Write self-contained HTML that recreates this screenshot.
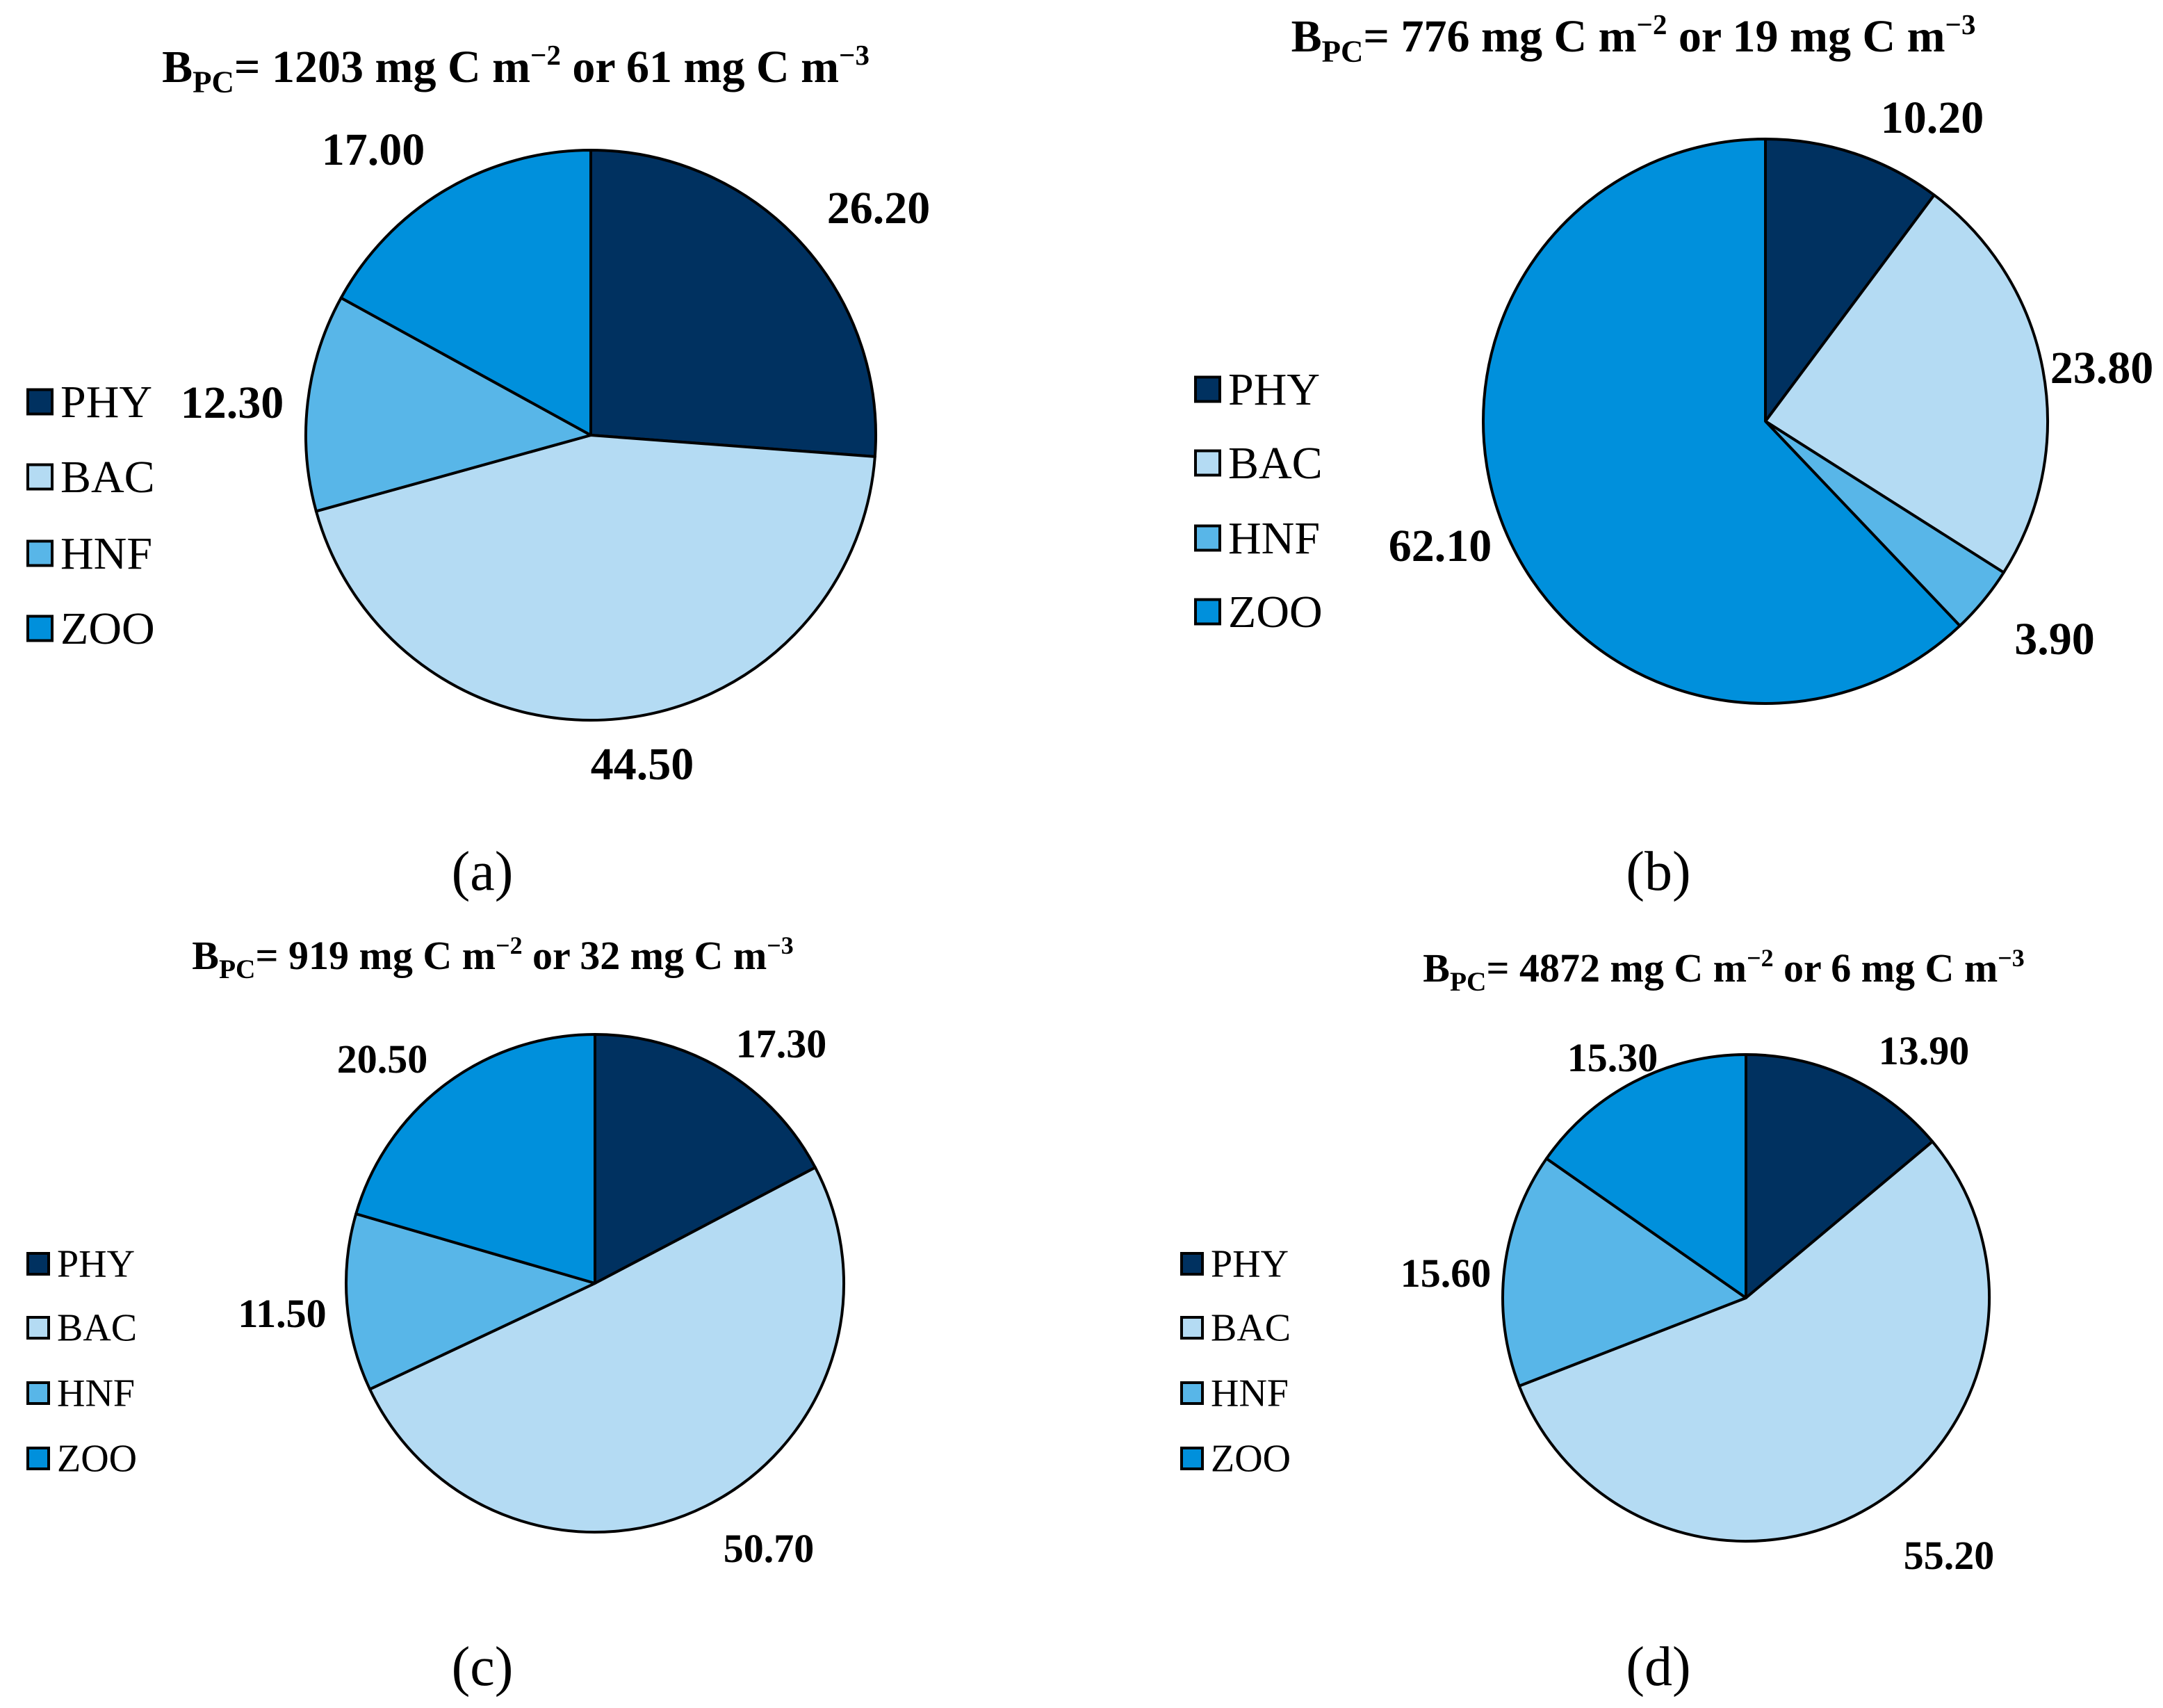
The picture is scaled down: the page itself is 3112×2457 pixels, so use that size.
<!DOCTYPE html>
<html><head><meta charset="utf-8"><style>
html,body{margin:0;padding:0;background:#fff}
svg{display:block}
text{font-family:"Liberation Serif",serif;fill:#000}
</style></head><body>
<svg id="fig" width="3112" height="2457" viewBox="0 0 3112 2457" xmlns="http://www.w3.org/2000/svg"></svg>
<script>
const categories = ["PHY","BAC","HNF","ZOO"];
const seriesA = [26.2, 44.5, 12.3, 17.0];
const seriesB = [10.2, 23.8, 3.9, 62.1];
const seriesC = [17.3, 50.7, 11.5, 20.5];
const seriesD = [13.9, 55.2, 15.6, 15.3];
const valueLabelsA = ["26.20","44.50","12.30","17.00"];
const valueLabelsB = ["10.20","23.80","3.90","62.10"];
const valueLabelsC = ["17.30","50.70","11.50","20.50"];
const valueLabelsD = ["13.90","55.20","15.60","15.30"];

const colors = ["#003160","#b4dbf3","#58b6e8","#0090dc"];
const NS = "http://www.w3.org/2000/svg";
const svg = document.getElementById("fig");

function mk(tag, attrs, parent){
  const e = document.createElementNS(NS, tag);
  for (const k in attrs) e.setAttribute(k, attrs[k]);
  (parent||svg).appendChild(e);
  return e;
}

const panels = [
  {id:"a", vals:seriesA, labels:valueLabelsA, cx:850, cy:626, r:410, fs:66, lfs:66,
   title:["1203","61"], tx:742, ty:118,
   lab:[[1264,321],[924,1121],[334,601],[537,237]],
   legX:40, legY:[578,686,796,904], sq:35, cap:[694,1280]},
  {id:"b", vals:seriesB, labels:valueLabelsB, cx:2540, cy:606, r:406, fs:66, lfs:66,
   title:["776","19"], tx:2350, ty:74,
   lab:[[2780,191],[3024,551],[2956,941],[2072,807]],
   legX:1720, legY:[560,666,774,880], sq:35, cap:[2386,1280]},
  {id:"c", vals:seriesC, labels:valueLabelsC, cx:856, cy:1846, r:358, fs:58, lfs:56,
   title:["919","32"], tx:709, ty:1394,
   lab:[[1124,1521],[1106,2247],[406,1909],[550,1543]],
   legX:40, legY:[1818,1910,2004,2098], sq:30, cap:[694,2424]},
  {id:"d", vals:seriesD, labels:valueLabelsD, cx:2512, cy:1867, r:350, fs:58, lfs:56,
   title:["4872","6"], tx:2480, ty:1412,
   lab:[[2768,1531],[2804,2257],[2080,1851],[2320,1541]],
   legX:1700, legY:[1818,1910,2004,2098], sq:30, cap:[2386,2424]}
];

panels.forEach(p => {
  const g = mk("g", {});
  
  

  const t = mk("text", {x:p.tx, y:p.ty, "text-anchor":"middle", "font-weight":"bold", "font-size":p.fs}, g);
  
  
  const sub = p.fs*0.68, sup = p.fs*0.62;
  t.innerHTML = 'B<tspan font-size="'+sub+'" dy="'+(p.fs*0.22)+'">PC</tspan><tspan dy="'+(-p.fs*0.22)+'">= '+p.title[0]+' mg C m</tspan><tspan font-size="'+sup+'" dy="'+(-p.fs*0.38)+'">−2</tspan><tspan dy="'+(p.fs*0.38)+'"> or '+p.title[1]+' mg C m</tspan><tspan font-size="'+sup+'" dy="'+(-p.fs*0.38)+'">−3</tspan>';

  const total = p.vals.reduce((a,b)=>a+b,0);
  let acc = 0;
  p.vals.forEach((v,i) => {
    const a0 = acc/total*2*Math.PI; acc += v;
    const a1 = acc/total*2*Math.PI;
    const x0 = p.cx + p.r*Math.sin(a0), y0 = p.cy - p.r*Math.cos(a0);
    const x1 = p.cx + p.r*Math.sin(a1), y1 = p.cy - p.r*Math.cos(a1);
    const large = (a1-a0) > Math.PI ? 1 : 0;
    const path = mk("path", {d:`M${p.cx},${p.cy} L${x0},${y0} A${p.r},${p.r} 0 ${large} 1 ${x1},${y1} Z`,
      fill:colors[i], stroke:"#000", "stroke-width":4, "stroke-linejoin":"round"}, g);
    
    

    const lt = mk("text", {x:p.lab[i][0], y:p.lab[i][1], "text-anchor":"middle", "font-weight":"bold", "font-size":p.fs}, g);
    
    
    lt.textContent = p.labels[i];
  });

  categories.forEach((c,i) => {
    const cy = p.legY[i];
    const r = mk("rect", {x:p.legX, y:cy - p.sq/2, width:p.sq, height:p.sq, fill:colors[i], stroke:"#000", "stroke-width":4}, g);
    
    
    const lt = mk("text", {x:p.legX + p.sq + 12, y:cy + p.lfs*0.33, "font-size":p.lfs}, g);
    
    
    lt.textContent = c;
  });

  const cp = mk("text", {x:p.cap[0], y:p.cap[1], "text-anchor":"middle", "font-size":80}, g);
  
  
  cp.textContent = "(" + p.id + ")";
});
</script>
</body></html>
